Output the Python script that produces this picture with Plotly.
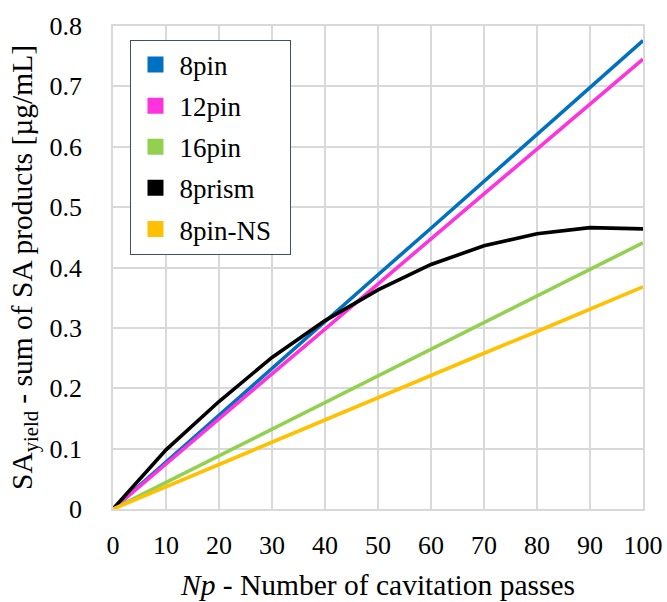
import plotly.graph_objects as go

# Number of cavitation passes
passes = [0, 10, 20, 30, 40, 50, 60, 70, 80, 90, 100]

# SA yield (sum of SA products, µg/mL) for each reactor geometry
sa_8pin = [0.0, 0.078, 0.155, 0.233, 0.310, 0.388, 0.465, 0.543, 0.620, 0.698, 0.776]
sa_12pin = [0.0, 0.075, 0.149, 0.224, 0.298, 0.373, 0.447, 0.522, 0.596, 0.671, 0.745]
sa_16pin = [0.0, 0.044, 0.088, 0.132, 0.176, 0.221, 0.265, 0.309, 0.353, 0.397, 0.441]
sa_8prism = [0.0, 0.098, 0.178, 0.251, 0.312, 0.363, 0.405, 0.436, 0.456, 0.466, 0.464]
sa_8pin_ns = [0.0, 0.037, 0.074, 0.110, 0.147, 0.184, 0.221, 0.258, 0.294, 0.331, 0.368]

series_names = ["8pin", "12pin", "16pin", "8prism", "8pin-NS"]
series_values = [sa_8pin, sa_12pin, sa_16pin, sa_8prism, sa_8pin_ns]
series_colors = ["#0070C0", "#FF33DD", "#92D050", "#000000", "#FFC000"]

x_ticks = [0, 10, 20, 30, 40, 50, 60, 70, 80, 90, 100]
y_ticks = [0, 0.1, 0.2, 0.3, 0.4, 0.5, 0.6, 0.7, 0.8]
y_tick_text = ["0", "0.1", "0.2", "0.3", "0.4", "0.5", "0.6", "0.7", "0.8"]

SERIF = "Liberation Serif"
PAD = "\u00a0\u00a0"  # widens the legend box on the right

fig = go.Figure()

# Data lines (drawn without legend entries)
for name, vals, col in zip(series_names, series_values, series_colors):
    fig.add_trace(go.Scatter(
        x=passes, y=vals, mode="lines", name=name,
        line=dict(color=col, width=3.6),
        showlegend=False, hoverinfo="x+y+name",
    ))

# Square swatches for the legend
for i, (name, col) in enumerate(zip(series_names, series_colors)):
    fig.add_trace(go.Scatter(
        x=[None], y=[None], mode="markers", name=name + PAD,
        legendgroup=f"g{i}",
        marker=dict(symbol="square", size=20, color=col,
                    line=dict(width=0)),
        showlegend=True,
    ))

fig.update_layout(
    width=667, height=602,
    margin=dict(l=112.5, r=24.3, t=25.7, b=92.7),
    paper_bgcolor="white", plot_bgcolor="white",
    font=dict(family=SERIF, size=26, color="#000000"),
    showlegend=True,
    legend=dict(
        x=0.033, y=0.972, xanchor="left", yanchor="top",
        bgcolor="white", bordercolor="#3E5061", borderwidth=1,
        font=dict(family=SERIF, size=27, color="#000000"),
        traceorder="grouped", tracegroupgap=3,
        itemwidth=38,
    ),
    xaxis=dict(
        range=[0, 100], tickvals=x_ticks, ticktext=[str(v) for v in x_ticks],
        showgrid=True, gridcolor="#D9D9D9", gridwidth=1.5,
        zeroline=False, showline=True, linecolor="#D9D9D9", linewidth=1.5,
        mirror=True, ticks="", ticklabelstandoff=12, automargin=False,
        tickfont=dict(family=SERIF, size=26, color="#000000"),
        title=dict(text="<i>Np</i> - Number of cavitation passes",
                   font=dict(family=SERIF, size=29.5, color="#000000"), standoff=15),
    ),
    yaxis=dict(
        range=[0, 0.8], tickvals=y_ticks, ticktext=y_tick_text,
        showgrid=True, gridcolor="#D9D9D9", gridwidth=1.5,
        zeroline=False, showline=True, linecolor="#D9D9D9", linewidth=1.5,
        mirror=True, ticks="", ticklabelstandoff=24, automargin=False,
        tickfont=dict(family=SERIF, size=26, color="#000000"),
        title=dict(text="SA<sub>yield</sub> - sum of SA products [µg/mL]",
                   font=dict(family=SERIF, size=29.5, color="#000000"), standoff=8),
    ),
)

fig.write_html("out.html")
